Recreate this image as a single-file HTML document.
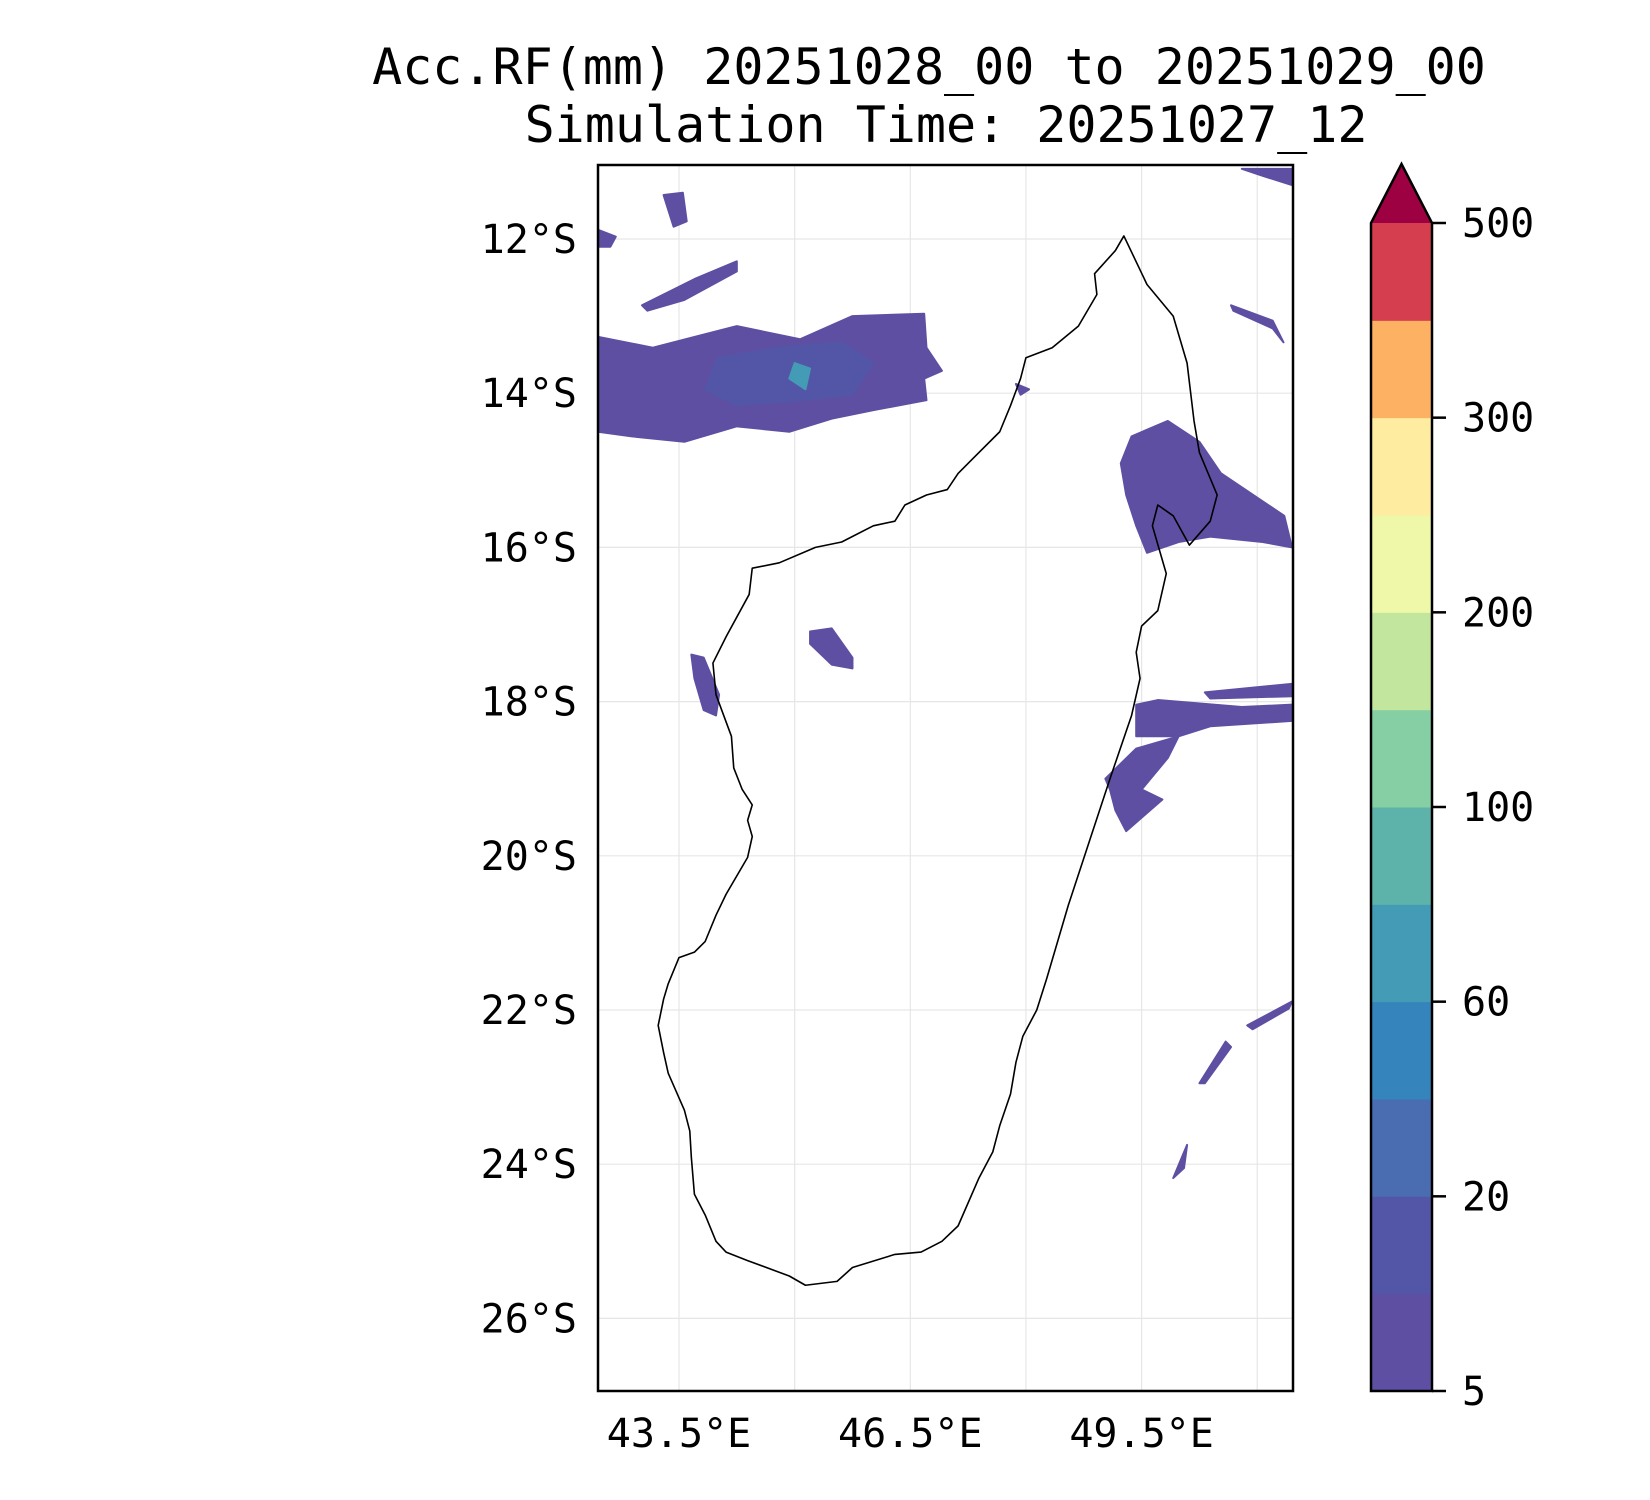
<!DOCTYPE html>
<html><head><meta charset="utf-8"><style>
html,body{margin:0;padding:0;background:#fff;}
svg{display:block;font-family:"DejaVu Sans Mono","Liberation Mono",monospace;}
</style></head><body>
<svg id="chart" width="1650" height="1500" viewBox="0 0 1650 1500" xmlns="http://www.w3.org/2000/svg">
<rect width="1650" height="1500" fill="#fff"/>
<text x="929" y="84" font-size="50" text-anchor="middle">Acc.RF(mm) 20251028_00 to 20251029_00</text>
<text x="946" y="142" font-size="50" text-anchor="middle">Simulation Time: 20251027_12</text>
<defs><clipPath id="plotclip"><rect x="598" y="165" width="695" height="1226"/></clipPath></defs>
<g id="grid"></g>
<g id="rain" clip-path="url(#plotclip)"></g>
<g id="coast" clip-path="url(#plotclip)"></g>
<rect x="598" y="165" width="695" height="1226" fill="none" stroke="#000" stroke-width="2.5"/>
<g id="axes"></g>
<g id="cbar"></g>
</svg>
<script>
const lonTicks=[43.5,46.5,49.5];
const lonGrid=[43.5,45,46.5,48,49.5,51];
const latTicks=[12,14,16,18,20,22,24,26];
const cbLevels=[5,10,20,40,60,80,100,150,200,250,300,400,500];
const cbTickLabels=[5,20,60,100,200,300,500];
const cbColors=["#5e4fa2","#5356a6","#4a6cb0","#3584bb","#439bb5","#5db3a9","#86cfa5","#c3e69f","#eef8a8","#feeda1","#fdb163","#d53e4f"];
const cbExtendColor="#9e0142";
const coastLon=[49.27,49.57,49.91,50.09,50.18,50.25,50.48,50.39,50.12,49.91,49.71,49.64,49.82,49.71,49.5,49.43,49.48,49.37,49.09,48.82,48.55,48.27,48.14,47.96,47.87,47.80,47.66,47.57,47.39,47.12,46.91,46.64,46.3,45.75,45.55,45.14,44.93,44.39,44.11,43.98,43.84,43.7,43.66,43.64,43.57,43.36,43.3,43.23,43.3,43.36,43.5,43.7,43.84,43.98,44.11,44.39,44.45,44.39,44.45,44.32,44.21,44.18,43.98,43.94,44.11,44.41,44.45,44.8,45.27,45.61,46.02,46.3,46.43,46.71,46.98,47.12,47.32,47.66,47.8,47.93,48.0,48.34,48.68,48.92,48.89,49.16];
const coastLat=[11.96,12.59,13.0,13.61,14.36,14.77,15.32,15.66,15.97,15.59,15.45,15.72,16.34,16.82,17.02,17.36,17.70,18.18,19.0,19.82,20.64,21.59,22.0,22.34,22.68,23.09,23.5,23.84,24.18,24.8,25.0,25.14,25.17,25.34,25.52,25.57,25.45,25.25,25.14,25.0,24.66,24.39,23.91,23.57,23.3,22.82,22.55,22.2,21.86,21.66,21.32,21.25,21.11,20.77,20.5,20.02,19.75,19.54,19.34,19.14,18.86,18.45,17.91,17.5,17.16,16.61,16.27,16.2,16.0,15.93,15.72,15.66,15.45,15.32,15.25,15.04,14.84,14.5,14.16,13.81,13.54,13.41,13.13,12.72,12.45,12.15];
const rainLevel=[0,1,4,0,0,0,0,0,0,0,0,0,0,0,0,0,0,0];
const rainLon=[
[42.45,43.16,43.7,44.25,45.07,45.75,46.68,46.71,46.91,46.68,46.71,46.02,45.48,44.93,44.25,43.57,42.89,42.45],
[44.0,44.8,45.61,46.02,45.75,45.07,44.25,43.84],
[45.0,45.2,45.14,44.93],
[43.02,43.7,44.25,44.25,43.57,43.09],
[42.45,42.68,42.61,42.45],
[43.3,43.55,43.6,43.43],
[49.37,49.84,50.25,50.53,51.35,51.45,51.07,50.39,49.98,49.57,49.43,49.3,49.23],
[49.43,49.71,50.8,51.45,51.45,50.39,49.98,49.43],
[50.32,51.45,51.45,50.39],
[49.03,49.43,49.98,49.84,49.5,49.77,49.3,49.16,49.09],
[45.2,45.48,45.75,45.75,45.48,45.2],
[43.66,43.82,44.02,43.98,43.82,43.7],
[50.25,50.59,50.66,50.32],
[50.87,51.45,51.41,50.94],
[49.91,50.09,50.05],
[50.8,51.45,51.45,51.07],
[50.66,51.2,51.34,51.2,50.69],
[47.87,48.04,47.93]];
const rainLat=[
[13.27,13.41,13.27,13.13,13.3,13.0,12.97,13.41,13.71,13.81,14.09,14.22,14.33,14.5,14.43,14.63,14.56,14.5],
[13.54,13.41,13.34,13.61,14.02,14.09,14.16,13.95],
[13.61,13.68,13.95,13.81],
[12.86,12.52,12.29,12.42,12.79,12.93],
[11.88,11.97,12.1,12.1],
[11.43,11.4,11.77,11.84],
[14.56,14.36,14.63,15.04,15.59,16.0,15.93,15.86,15.93,16.07,15.72,15.32,14.91],
[18.04,17.98,18.07,18.04,18.25,18.32,18.45,18.45],
[17.88,17.77,17.93,17.96],
[19.0,18.61,18.45,18.73,19.14,19.27,19.68,19.41,19.14],
[17.09,17.05,17.43,17.57,17.52,17.25],
[17.39,17.43,17.91,18.18,18.11,17.7],
[22.95,22.41,22.48,22.95],
[22.2,21.89,21.98,22.25],
[24.18,23.75,24.05],
[11.09,11.09,11.3,11.18],
[12.86,13.06,13.34,13.16,12.93],
[13.88,13.95,14.02]];

const NS="http://www.w3.org/2000/svg";
const PX=77.1;
function xLon(lon){return 679+(lon-43.5)*PX;}
function yLat(lat){return 239+(lat-12)*PX;}
const cbTop=223,cbBot=1391,cbL=1371,cbR=1432;
function yCb(v){const i=cbLevels.indexOf(v);return cbBot-i*(cbBot-cbTop)/(cbLevels.length-1);}
function mk(tag,attrs,parent){const e=document.createElementNS(NS,tag);for(const k in attrs)e.setAttribute(k,attrs[k]);parent.appendChild(e);return e;}

const grid=document.getElementById('grid');
lonGrid.forEach(l=>{const e=mk('line',{x1:xLon(l),x2:xLon(l),y1:165,y2:1391,stroke:'#e6e6e6','stroke-width':1.2},grid);

});
latTicks.forEach(l=>{const e=mk('line',{x1:598,x2:1293,y1:yLat(l),y2:yLat(l),stroke:'#e6e6e6','stroke-width':1.2},grid);

});

const rain=document.getElementById('rain');
rainLon.forEach((lons,i)=>{const pts=lons.map((lo,j)=>xLon(lo)+','+yLat(rainLat[i][j])).join(' ');
const e=mk('polygon',{points:pts,fill:cbColors[rainLevel[i]],'stroke':cbColors[rainLevel[i]],'stroke-width':2,'stroke-linejoin':'round'},rain);

});

const coast=document.getElementById('coast');
const cpts=coastLon.map((lo,j)=>xLon(lo)+','+yLat(coastLat[j])).join(' ');
const cl=mk('polygon',{points:cpts,fill:'none',stroke:'#000','stroke-width':1.6,'stroke-linejoin':'round'},coast);



const axes=document.getElementById('axes');
latTicks.forEach(l=>{const t=mk('text',{x:577,y:yLat(l)+14,'font-size':40,'text-anchor':'end'},axes);t.textContent=l+'°S';

});
lonTicks.forEach(l=>{const t=mk('text',{x:xLon(l),y:1447,'font-size':40,'text-anchor':'middle'},axes);t.textContent=l.toFixed(1)+'°E';

});

const cb=document.getElementById('cbar');
for(let i=0;i<cbColors.length;i++){const y1=yCb(cbLevels[i+1]),y0=yCb(cbLevels[i]);
const r=mk('rect',{x:cbL,y:y1,width:cbR-cbL,height:y0-y1+0.5,fill:cbColors[i]},cb);

}
const tri=mk('polygon',{points:cbL+','+cbTop+' '+(cbL+cbR)/2+','+(cbTop-59)+' '+cbR+','+cbTop,fill:cbExtendColor},cb);


const out=mk('polygon',{points:cbL+','+cbBot+' '+cbL+','+cbTop+' '+(cbL+cbR)/2+','+(cbTop-59)+' '+cbR+','+cbTop+' '+cbR+','+cbBot,fill:'none',stroke:'#000','stroke-width':2.5},cb);


cbTickLabels.forEach(v=>{const y=yCb(v);
const tk=mk('line',{x1:cbR,x2:cbR+14,y1:y,y2:y,stroke:'#000','stroke-width':2.5},cb);


const t=mk('text',{x:1462,y:y+14,'font-size':40},cb);t.textContent=v;

});
</script>
</body></html>
